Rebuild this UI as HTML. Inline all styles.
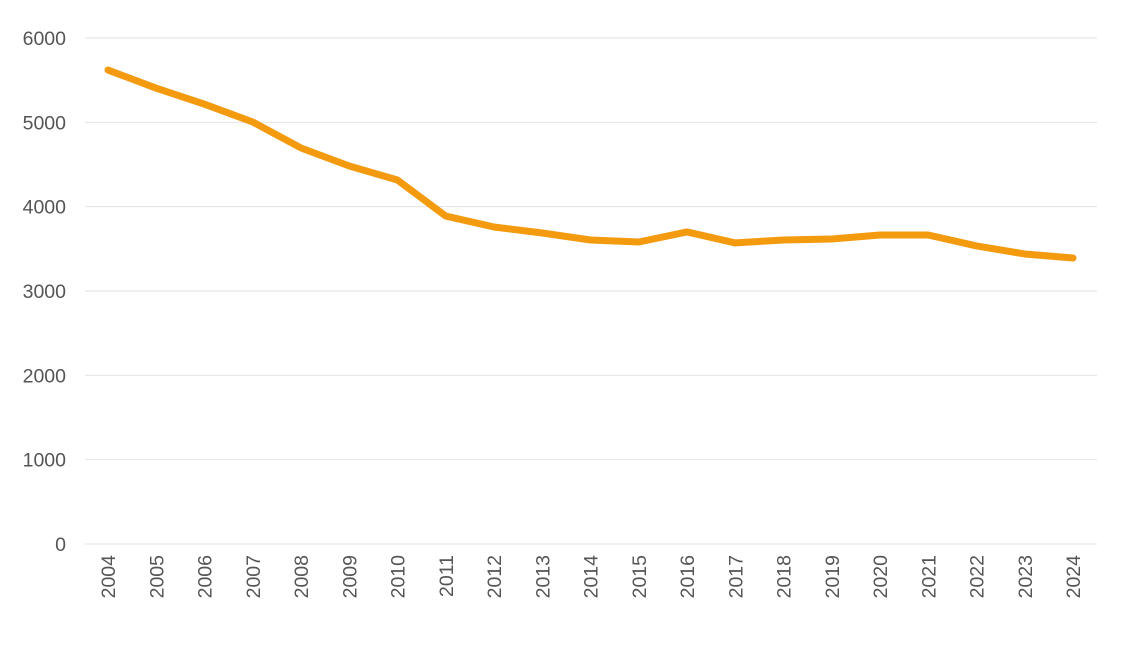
<!DOCTYPE html>
<html><head><meta charset="utf-8"><style>
html,body{margin:0;padding:0;background:#fff;}
svg{display:block;font-family:"Liberation Sans",sans-serif;}
</style></head><body>
<svg id="chart" width="1125" height="669"></svg>
<script>
const years=[2004,2005,2006,2007,2008,2009,2010,2011,2012,2013,2014,2015,2016,2017,2018,2019,2020,2021,2022,2023,2024];
const values=[5620,5405,5215,5004,4696,4482,4316,3889,3759,3688,3605,3581,3700,3570,3605,3617,3664,3664,3534,3439,3391];
const yTicks=[0,1000,2000,3000,4000,5000,6000];
const NS="http://www.w3.org/2000/svg";
const svg=document.getElementById('chart');
const x0=108,x1=1073,yb=544,yt=38,ymax=6000;
function xs(i){return x0+(x1-x0)*i/(years.length-1);}
function ys(v){return yb-(yb-yt)*v/ymax;}
function mk(t,a){const e=document.createElementNS(NS,t);for(const k in a)e.setAttribute(k,a[k]);svg.appendChild(e);return e;}
yTicks.forEach(v=>{
  const g=mk('line',{x1:85,x2:1097,y1:ys(v),y2:ys(v),stroke:'#e2e2e2','stroke-width':1});
  
  
  const t=mk('text',{x:66,y:ys(v)+7,'text-anchor':'end','font-size':19.5,fill:'#555'});
  t.textContent=v;
  
  
});
years.forEach((yr,i)=>{
  const x=xs(i);
  const t=mk('text',{x:0,y:0,'text-anchor':'end','font-size':19.5,fill:'#555',transform:`translate(${x+7},555) rotate(-90)`});
  t.textContent=yr;
  
  
});
const p=mk('polyline',{points:values.map((v,i)=>xs(i)+','+ys(v)).join(' '),fill:'none',stroke:'#F39A0F','stroke-width':7,'stroke-linejoin':'round','stroke-linecap':'round'});


</script>
</body></html>
